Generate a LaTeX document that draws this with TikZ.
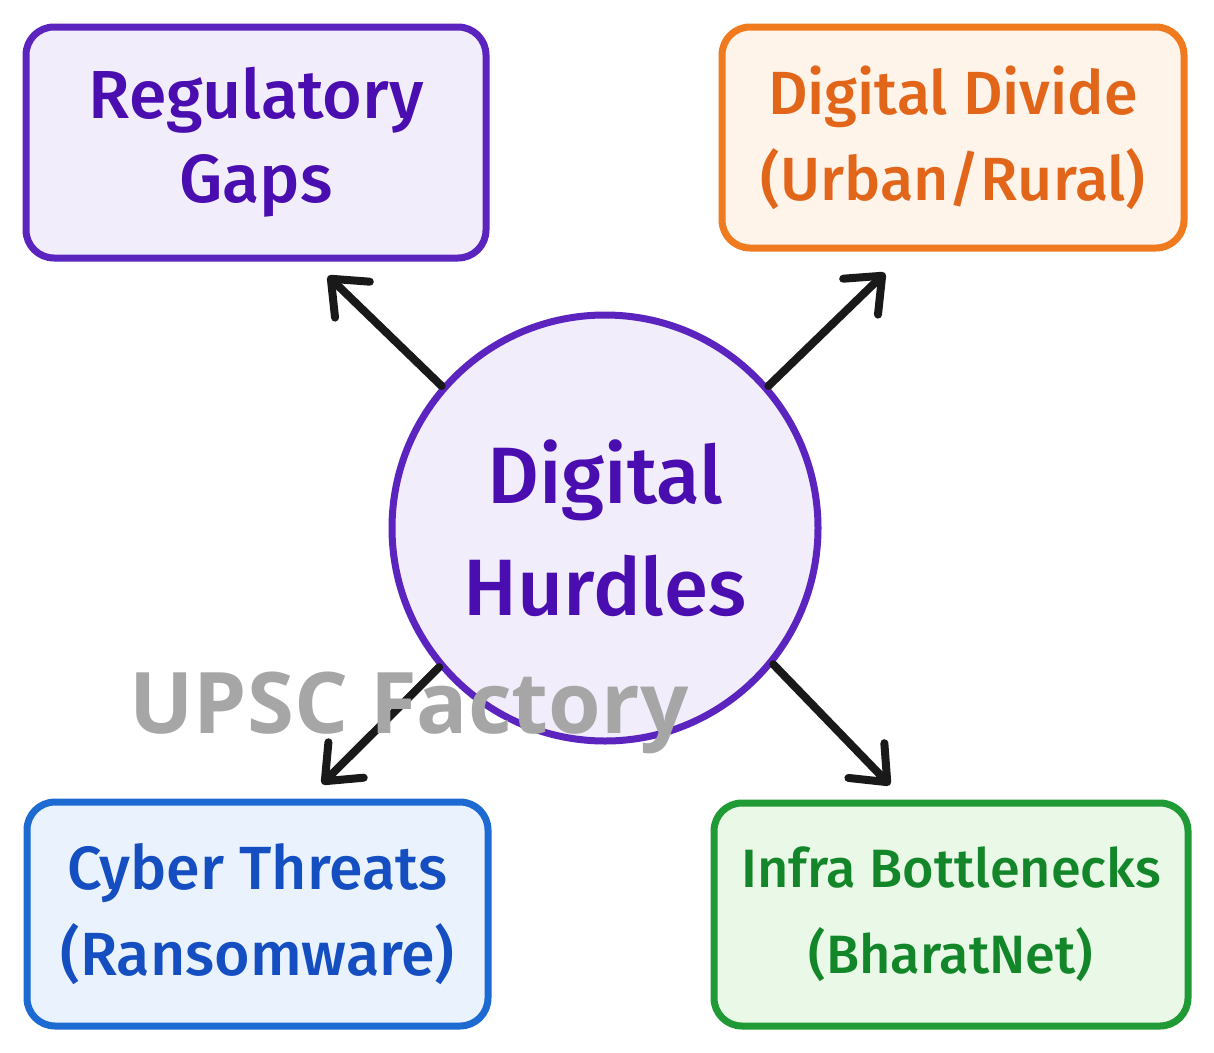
\documentclass[tikz,border=0pt]{standalone}
\usepackage{fontspec}
\setmainfont{Fira Sans}[UprightFont={* Medium}]
\newfontfamily\wmfont{Open Sans}
\usetikzlibrary{arrows.meta}
\definecolor{purpB}{RGB}{92,36,190}
\definecolor{purpT}{RGB}{74,14,176}
\definecolor{purpF}{RGB}{242,237,251}
\definecolor{oranB}{RGB}{240,122,30}
\definecolor{oranT}{RGB}{226,102,26}
\definecolor{oranF}{RGB}{255,244,234}
\definecolor{blueB}{RGB}{28,106,210}
\definecolor{blueT}{RGB}{20,78,192}
\definecolor{blueF}{RGB}{234,243,253}
\definecolor{grenB}{RGB}{32,154,52}
\definecolor{grenT}{RGB}{18,134,40}
\definecolor{grenF}{RGB}{234,248,232}
\definecolor{wmgray}{RGB}{166,166,166}
\tikzset{
  boxstyle/.style={draw, rounded corners=28pt, line width=7pt, align=center, inner sep=0pt},
  hubstyle/.style={draw=purpB, fill=purpF, circle, line width=7pt, align=center,
    minimum size=426pt, inner sep=0pt, text=purpT,
    font=\fontsize{80}{112}\selectfont},
  arr/.style={line width=8pt, draw=black!90, line cap=round, line join=round,
    -{Straight Barb[length=30pt,width=50pt,round]}},
}
\begin{document}
\begin{tikzpicture}[x=1pt,y=-1pt]
\fill[white] (0,0) rectangle (1214,1052);
\useasboundingbox (0,0) rectangle (1214,1052);

\node[boxstyle, draw=purpB, fill=purpF, text=purpT, minimum width=460pt, minimum height=231pt,
  font=\fontsize{68}{84}\selectfont]
  (reg) at (256,142.5) {Regulatory\\Gaps};
\node[boxstyle, draw=oranB, fill=oranF, text=oranT, minimum width=462pt, minimum height=221pt,
  font=\fontsize{61}{86}\selectfont]
  (div) at (953,137.5) {Digital Divide\\(Urban/Rural)};
\node[boxstyle, draw=blueB, fill=blueF, text=blueT, minimum width=461pt, minimum height=224pt,
  font=\fontsize{61}{86}\selectfont]
  (cyb) at (257.5,914) {Cyber Threats\\(Ransomware)};
\node[boxstyle, draw=grenB, fill=grenF, text=grenT, minimum width=474pt, minimum height=223pt,
  font=\fontsize{54}{86}\selectfont]
  (inf) at (951,914.5) {Infra Bottlenecks\\(BharatNet)};

\node[hubstyle] (hub) at (605,528) {Digital\\Hurdles};

\coordinate (t1) at (328,276);
\coordinate (t2) at (885,273);
\coordinate (t3) at (322,784);
\coordinate (t4) at (890,785);
\draw[arr] (hub.139) -- (t1);
\draw[arr] (hub.41) -- (t2);
\draw[arr] (hub.220) -- (t3);
\draw[arr] (hub.-39) -- (t4);

\node[text=wmgray, font=\wmfont\bfseries\fontsize{85}{90}\selectfont, inner sep=0pt, anchor=base]
  (wm) at (409,733) {UPSC Factory};
\end{tikzpicture}
\end{document}
